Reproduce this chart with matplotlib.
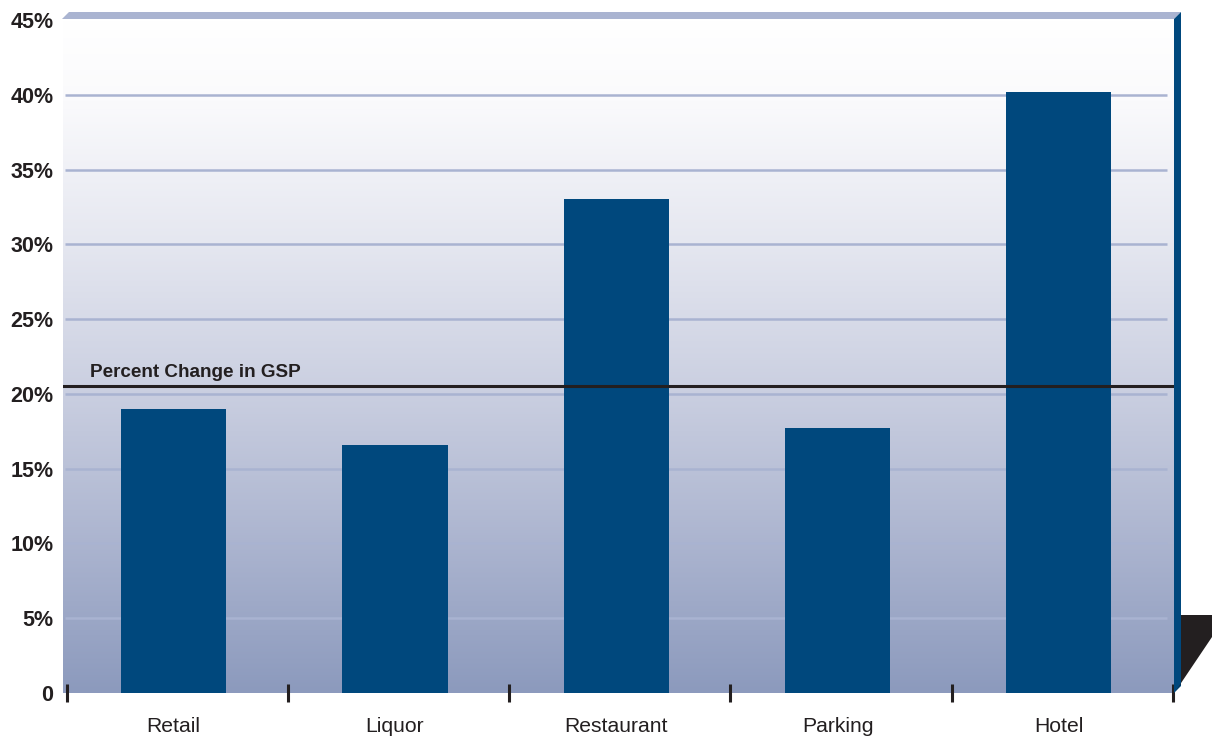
import numpy as np
import matplotlib
matplotlib.use("Agg")
import matplotlib.pyplot as plt
from matplotlib.colors import LinearSegmentedColormap
from matplotlib.patches import Polygon

plt.rcParams["font.family"] = ["Liberation Sans", "DejaVu Sans"]

categories = ["Retail", "Liquor", "Restaurant", "Parking", "Hotel"]
pct_change = [19.0, 16.6, 33.0, 17.7, 40.2]
gsp_change = 20.5
y_ticks = [0, 5, 10, 15, 20, 25, 30, 35, 40, 45]
y_labels = ["0", "5%", "10%", "15%", "20%", "25%", "30%", "35%", "40%", "45%"]

W, H = 1212, 738
fig = plt.figure(figsize=(W / 100, H / 100), dpi=100)
ax = fig.add_axes([63 / W, 45 / H, (1174 - 63) / W, (693 - 20) / H])


def fpt(px, py):
    # pixel position (from top-left) -> figure fraction
    return (px / W, 1 - py / H)


ymax = 45
ax.set_xlim(-0.5, 4.52)
ax.set_ylim(0, ymax)

# background gradient, white at the top fading to slate blue at the bottom
stops = [(0.0, "#8C9ABD"), (0.22, "#ABB4CF"), (0.44, "#C9CEE0"),
         (0.67, "#E5E7F0"), (0.88, "#FAFAFC"), (1.0, "#FFFFFF")]
cmap = LinearSegmentedColormap.from_list("bg", stops)
grad = np.linspace(0, 1, 256).reshape(-1, 1)
ax.imshow(grad, cmap=cmap, origin="lower", aspect="auto",
          extent=(-0.5, 4.52, 0, ymax), zorder=0)

for v in y_ticks[1:-1]:
    ax.plot([-0.49, 4.49], [v, v], color="#A9B3D1", lw=1.8, zorder=1,
            solid_capstyle="butt")

x = np.arange(len(categories))
ax.bar(x, pct_change, width=0.475, color="#00487D", zorder=2)

ax.axhline(gsp_change, color="#231F20", lw=2.2, zorder=3)
ax.text(-0.38, gsp_change + 0.35, "Percent Change in GSP", fontsize=13.6,
        fontweight="bold", color="#231F20", ha="left", va="bottom", zorder=4)

ax.set_yticks(y_ticks)
ax.set_yticklabels(y_labels, fontsize=15.5, fontweight="bold", color="#231F20")
ax.tick_params(axis="y", length=0, pad=7)

ax.set_xticks(x)
ax.set_xticklabels(categories, fontsize=15.2, color="#231F20")
ax.set_xticks(np.arange(len(categories) + 1) - 0.484, minor=True)
ax.tick_params(axis="x", which="major", length=0, pad=17)
ax.tick_params(axis="x", which="minor", direction="inout", length=13,
               width=2.2, color="#231F20")

for s in ax.spines.values():
    s.set_visible(False)

# frame pieces: top ledge, right wall and floor corner
top = Polygon([fpt(62, 19), fpt(69, 12), fpt(1181, 12), fpt(1174, 19)],
              closed=True, transform=fig.transFigure, color="#AAB4D1",
              lw=0)
wall = Polygon([fpt(1174, 19), fpt(1181, 12), fpt(1181, 686), fpt(1174, 693)],
               closed=True, transform=fig.transFigure, color="#00487D",
               lw=0)
floor = Polygon([fpt(1181, 615), fpt(1212, 615), fpt(1212, 637),
                 fpt(1175, 692), fpt(1181, 684)],
                closed=True, transform=fig.transFigure, color="#231F20",
                lw=0)
for p in (top, wall, floor):
    fig.patches.append(p)

fig.savefig("out.png", dpi=100, facecolor="white")
